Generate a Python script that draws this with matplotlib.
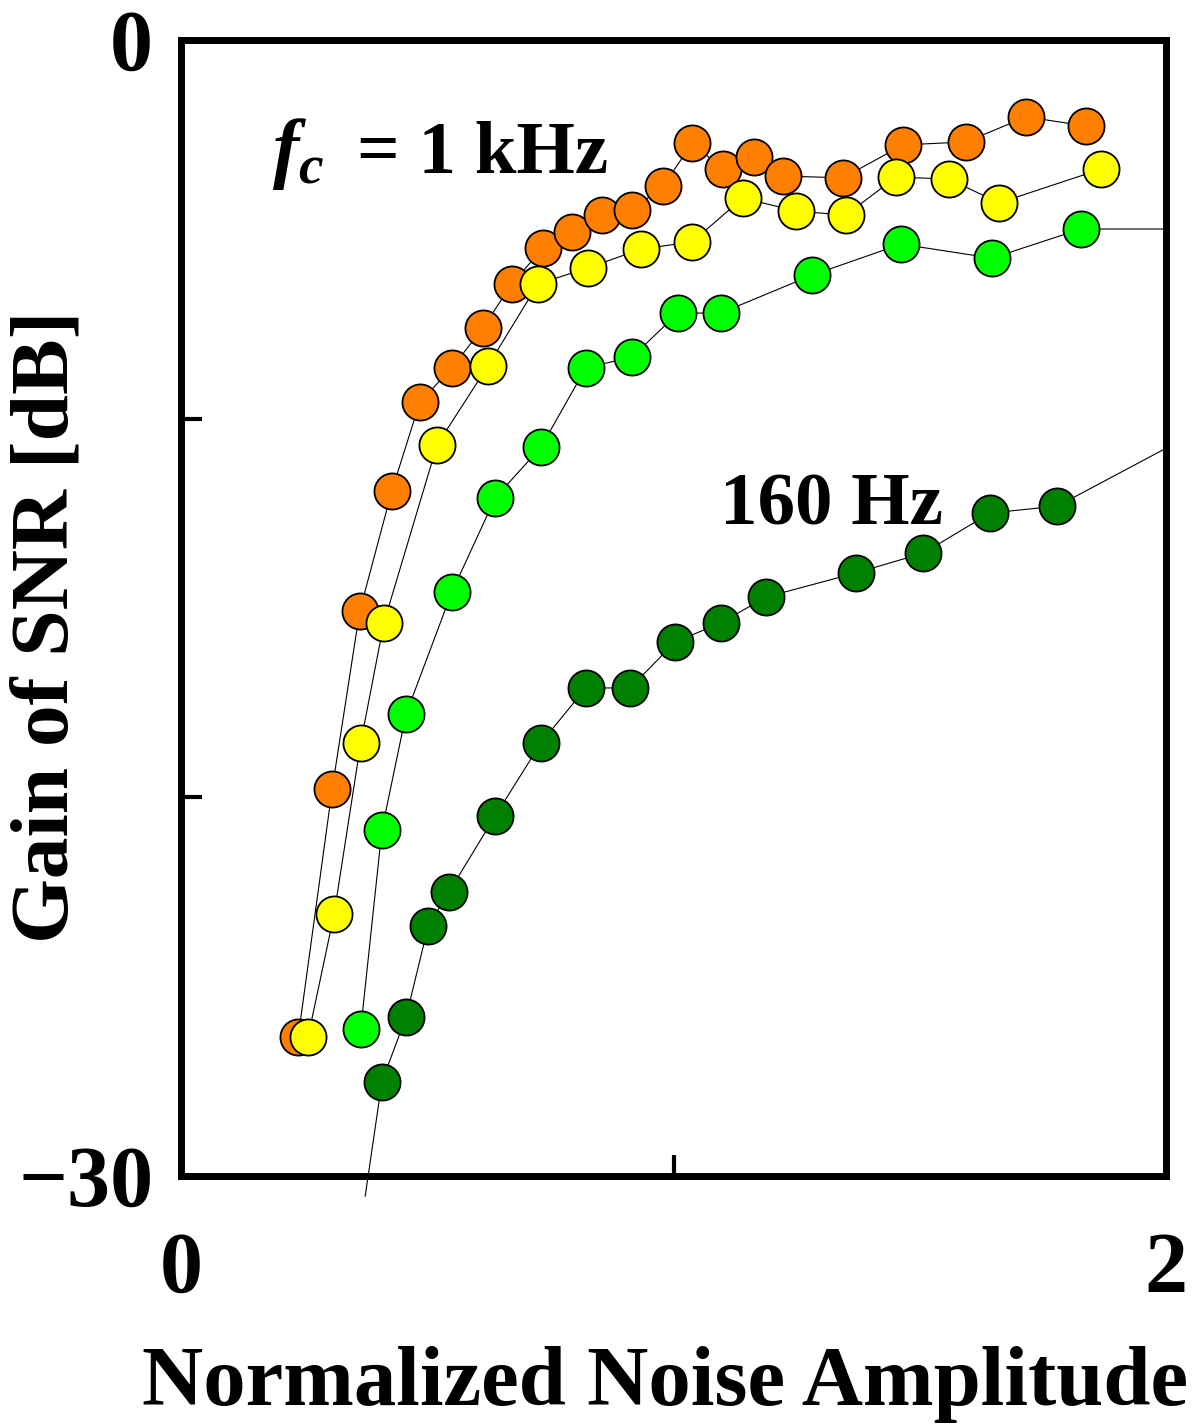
import matplotlib
matplotlib.use('Agg')
import matplotlib.pyplot as plt

plt.rcParams['font.family'] = ['Liberation Serif', 'DejaVu Serif']
plt.rcParams['font.weight'] = 'bold'
plt.rcParams['mathtext.fontset'] = 'custom'
plt.rcParams['mathtext.it'] = 'Liberation Serif:italic:bold'
plt.rcParams['mathtext.rm'] = 'Liberation Serif:bold'

# data
x_1k = [0.238, 0.307, 0.363, 0.428, 0.485, 0.550, 0.613, 0.672, 0.735, 0.794, 0.855,
        0.916, 0.979, 1.038, 1.100, 1.163, 1.222, 1.344, 1.466, 1.594, 1.716, 1.838]
y_1k = [-26.33, -19.78, -15.08, -11.91, -9.56, -8.66, -7.60, -6.44, -5.49, -5.07, -4.62,
        -4.49, -3.86, -2.72, -3.41, -3.09, -3.59, -3.64, -2.77, -2.69, -2.03, -2.27]

x_yel = [0.258, 0.311, 0.365, 0.412, 0.520, 0.623, 0.725, 0.826, 0.934, 1.038, 1.141,
         1.249, 1.350, 1.452, 1.559, 1.661, 1.868]
y_yel = [-26.33, -23.08, -18.56, -15.39, -10.69, -8.61, -6.44, -6.02, -5.52, -5.33, -4.17,
         -4.52, -4.62, -3.62, -3.67, -4.30, -3.41]

x_grn = [0.365, 0.408, 0.457, 0.550, 0.638, 0.731, 0.822, 0.916, 1.009, 1.096, 1.281,
         1.462, 1.647, 1.827]
y_grn = [-26.12, -20.86, -17.80, -14.58, -12.09, -10.75, -8.66, -8.37, -7.21, -7.21, -6.21,
         -5.39, -5.76, -4.99]
# line continues to the right frame
x_grn_line = x_grn + [2.0]
y_grn_line = y_grn + [-4.99]

x_160 = [0.408, 0.457, 0.502, 0.544, 0.638, 0.731, 0.822, 0.912, 1.003, 1.096, 1.188,
         1.371, 1.507, 1.643, 1.779]
y_160 = [-27.51, -25.80, -23.40, -22.50, -20.49, -18.56, -17.11, -17.11, -15.90, -15.39,
         -14.71, -14.07, -13.55, -12.49, -12.31]
x_160_line = [0.374] + x_160 + [2.0]
y_160_line = [-30.53] + y_160 + [-10.78]

fig = plt.figure(figsize=(12, 14.25), dpi=100)
ax = fig.add_axes([0.1508, 0.1747, 0.8209, 0.7972])
ax.set_xlim(0, 2)
ax.set_ylim(-30, 0)

ms = 26
mew = 1.3
lw = 0.8

ax.plot(x_160_line, y_160_line, color='black', lw=lw, clip_on=False, zorder=2)
ax.plot(x_160, y_160, 'o', ms=ms, mfc='#008000', mec='black', mew=mew, zorder=3)

ax.plot(x_grn_line, y_grn_line, color='black', lw=lw, zorder=2)
ax.plot(x_grn, y_grn, 'o', ms=ms, mfc='#00FF00', mec='black', mew=mew, zorder=3)

ax.plot(x_1k, y_1k, '-o', color='black', lw=lw, ms=ms, mfc='#FF8000', mec='black', mew=mew, zorder=4)
ax.plot(x_yel, y_yel, '-o', color='black', lw=lw, ms=ms, mfc='#FFFF00', mec='black', mew=mew, zorder=5)

for s in ax.spines.values():
    s.set_linewidth(5)

ax.set_xticks([0, 1, 2])
ax.set_xticklabels(['0', '', '2'])
ax.set_yticks([0, -10, -20, -30])
ax.set_yticklabels(['0', '', '', '\u221230'])
ax.tick_params(axis='both', direction='in', length=15, width=3, labelsize=62)
ax.tick_params(axis='x', pad=40)
ax.tick_params(axis='y', pad=20)

# annotations
ax.text(0.185, -3.5, r'$f_c$', fontsize=57, fontweight='bold')
ax.text(0.357, -3.5, '= 1 kHz', fontsize=54, fontweight='bold')
ax.text(1.094, -12.8, '160 Hz', fontsize=54, fontweight='bold')

fig.text(0.554, 0.014, 'Normalized Noise Amplitude', fontsize=61, fontweight='bold',
         ha='center', va='baseline')
fig.text(0.04, 0.56, 'Gain of SNR [dB]', fontsize=60, fontweight='bold',
         ha='center', va='center', rotation=90)

fig.savefig('out.png', dpi=100)
